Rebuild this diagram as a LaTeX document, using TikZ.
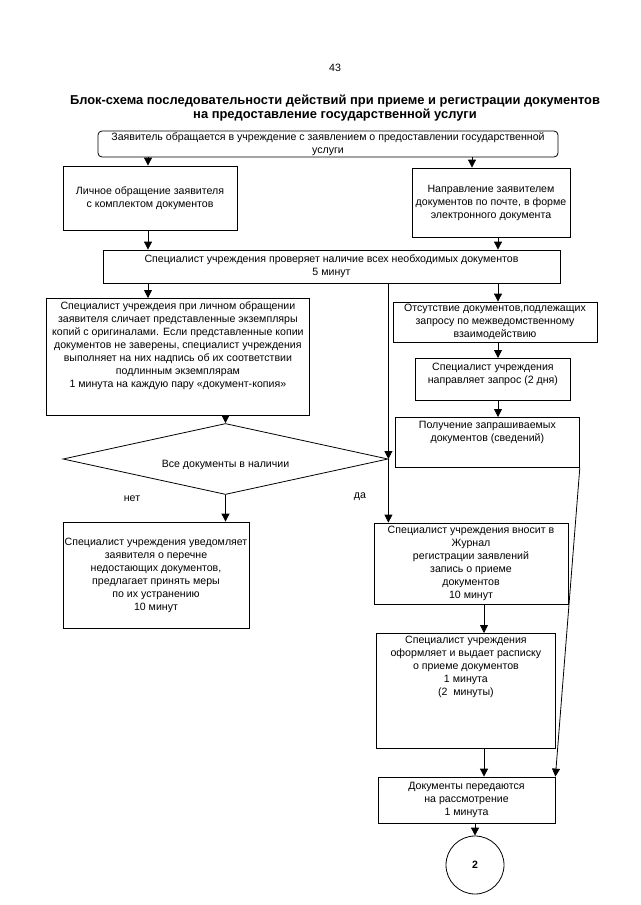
\documentclass[tikz,border=0pt]{standalone}
\usepackage{fontspec}
\setmainfont{Liberation Sans}
\usetikzlibrary{arrows.meta,shapes.geometric}

\tikzset{
  blok/.style={draw,line width=.8pt,inner sep=0pt,align=center,
    font=\fontsize{10.6}{13}\selectfont},
  verh/.style={blok,anchor=north west},
  romb/.style={draw,diamond,aspect=4.6,line width=.8pt,inner sep=0pt,
    font=\fontsize{10.6}{13}\selectfont},
  strel/.style={-{Triangle[width=8pt,length=8pt]},line width=.8pt},
  podp/.style={font=\fontsize{10.6}{13}\selectfont},
}

\begin{document}
\begin{tikzpicture}[x=1pt,y=-1pt]
\useasboundingbox (0,0) rectangle (640,905);

% page number and title
\node[podp] (nom) at (335,68) {43};
\node[align=center,font=\bfseries\fontsize{12.9}{14}\selectfont] (zag) at (335,108)
  {Блок-схема последовательности действий при приеме и регистрации документов\\
   на предоставление государственной услуги};

% blocks
\node[blok,rounded corners=4pt,minimum width=460,minimum height=26] (top) at (328,144)
  {Заявитель обращается в учреждение с заявлением о предоставлении государственной\\услуги};
\node[blok,minimum width=174,minimum height=64] (A) at (150,198)
  {Личное обращение заявителя\\с комплектом документов};
\node[blok,minimum width=158,minimum height=69] (B) at (491,202.5)
  {Направление заявителем\\документов по почте, в форме\\электронного документа};
\node[blok,minimum width=457,minimum height=33] (C) at (331.5,266.5)
  {Специалист учреждения проверяет наличие всех необходимых документов\\5 минут};
\node[verh] (D) at (46,298) {\parbox[c][117pt][t]{263pt}{\vspace*{3pt}\centering
  Специалист учреждеия при личном обращении\\заявителя сличает представленные экземпляры\\
  копий с оригиналами. Если представленные копии\\документов не заверены, специалист учреждения\\
  выполняет на них надпись об их соответствии\\подлинным экземплярам\\
  1 минута на каждую пару «документ-копия»}};
\node[blok,minimum width=204,minimum height=40] (E1) at (495,322)
  {Отсутствие документов,подлежащих\\запросу по межведомственному\\взаимодействию};
\node[verh] (E2) at (415,358) {\parbox[c][42pt][t]{155pt}{\vspace*{5pt}\centering
  Специалист учреждения\\направляет запрос (2 дня)}};
\node[verh] (E3) at (395,417) {\parbox[c][50pt][t]{184pt}{\vspace*{4pt}\centering
  Получение запрашиваемых\\документов (сведений)}};
\node[romb,minimum width=325,minimum height=71] (dia) at (225.5,459)
  {\raisebox{-6pt}[8pt][2.5pt]{Все документы в наличии}};
\node[blok,minimum width=186,minimum height=106] (F) at (156,575)
  {Специалист учреждения уведомляет\\заявителя о перечне\\недостающих документов,\\
   предлагает принять меры\\по их устранению\\10 минут};
\node[blok,minimum width=194,minimum height=81] (G) at (471,563.5)
  {Специалист учреждения вносит в\\Журнал\\регистрации заявлений\\запись о приеме\\документов\\10 минут};
\node[verh] (H) at (376,633) {\parbox[c][115pt][t]{179pt}{\vspace*{3pt}\centering
  Специалист учреждения\\оформляет и выдает расписку\\о приеме документов\\1 минута\\(2~~минуты)}};
\node[blok,minimum width=177,minimum height=46] (I) at (466.5,800)
  {Документы передаются\\на рассмотрение\\1 минута};
\node[blok,circle,minimum size=58,font=\bfseries\fontsize{10.6}{13}\selectfont] (c2) at (475,865) {2};

\node[podp] (net) at (132,499) {нет};
\node[podp] (da) at (360,497) {да};

% connectors
\coordinate (kL) at (148,0);
\coordinate (kB) at (472,0);
\coordinate (kR) at (498,0);
\coordinate (kG) at (484,0);
\draw[strel] (top.south -| kL) -- (A.north -| kL);
\draw[strel] (top.south -| kB) -- (B.north -| kB);
\draw[strel] (A.south -| kL) -- (C.north -| kL);
\draw[strel] (B.south -| kR) -- (C.north -| kR);
\draw[strel] (C.south -| kL) -- (D.north -| kL);
\draw[strel] (C.south -| kR) -- (E1.north -| kR);
\draw[strel] (E1.south -| kR) -- (E2.north -| kR);
\draw[strel] (E2.south -| kR) -- (E3.north -| kR);
\draw[strel] (D.south -| dia.north) -- (dia.north);
\draw[strel] (C.south -| dia.east) -- (dia.east);
\draw[strel] (dia.east) -- (dia.east |- G.north);
\draw[strel] (dia.south) -- (dia.south |- F.north);
\draw[strel] (E3.south east) -- (I.north east);
\draw[strel] (G.south -| kG) -- (H.north -| kG);
\draw[strel] (H.south -| kG) -- (I.north -| kG);
\draw[strel] (I.south -| c2) -- (c2.north);
\end{tikzpicture}
\end{document}
